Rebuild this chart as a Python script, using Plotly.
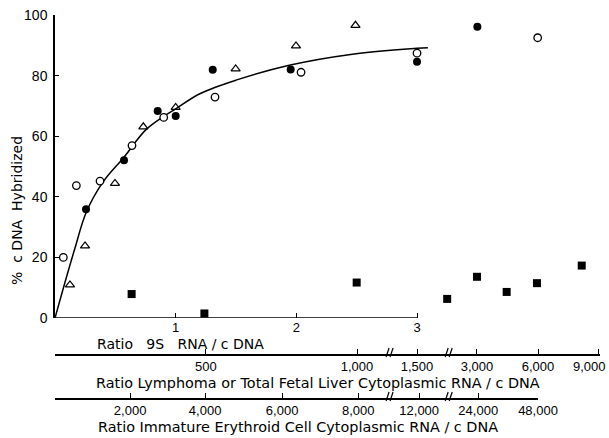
import plotly.graph_objects as go

# ---- data (x in "Ratio 9S RNA / cDNA" axis units; points beyond 3 sit on the broken scale) ----
open_circle_x = [0.069, 0.177, 0.373, 0.638, 0.901, 1.326, 2.039, 3.0, 4.0]
open_circle_y = [20.0, 43.7, 45.2, 56.9, 66.2, 72.9, 81.1, 87.4, 92.5]

filled_circle_x = [0.257, 0.572, 0.851, 1.0, 1.307, 1.953, 3.0, 3.5]
filled_circle_y = [35.9, 52.1, 68.3, 66.7, 81.9, 82.0, 84.6, 96.1]

triangle_x = [0.124, 0.249, 0.497, 0.732, 1.0, 1.497, 1.997, 2.49]
triangle_y = [10.9, 23.8, 44.4, 63.1, 69.5, 82.2, 89.8, 96.6]

square_x = [0.635, 1.238, 2.5, 3.25, 3.497, 3.743, 3.994, 4.365]
square_y = [7.9, 1.5, 11.7, 6.3, 13.6, 8.6, 11.5, 17.3]

curve_x = [0, 0.07, 0.165, 0.26, 0.4, 0.57, 0.75, 0.9, 1.0, 1.2, 1.5, 1.95, 2.45, 3.0, 3.09]
curve_y = [0, 10, 23, 35, 45, 53, 62, 66.5, 69, 74, 78.5, 83.5, 87, 89, 89.2]

# tick labels
y_ticks = [0, 20, 40, 60, 80, 100]
ratio9s_ticks = [1, 2, 3]
lymph_pos = [0, 1.251, 2.503, 3.0, 3.497, 4.003, 4.5]
lymph_labels = ["", "500", "1,000", "1,500", "3,000", "6,000", "9,000"]
eryth_pos = [0, 0.622, 1.243, 1.881, 2.511, 3.016, 3.505, 4.0]
eryth_labels = ["", "2,000", "4,000", "6,000", "8,000", "12,000", "24,000", "48,000"]
break_pos = [2.76, 3.25]

FONT = "DejaVu Sans"
TFONT = "Liberation Sans"
W, H = 609, 438
ML, MR, MT, MB = 55, 9, 15, 5
XMAX = (W - ML - MR) / 120.67
PH = H - MT - MB
PW = W - ML - MR
NB = "\u00a0"

def ypaper(py):
    return (H - MB - py) / PH

def xpaper(px):
    return (px - ML) / PW

fig = go.Figure()
fig.add_trace(go.Scatter(x=curve_x, y=curve_y, mode="lines", line=dict(color="black", width=1.5, shape="spline"),
                         hoverinfo="skip", showlegend=False))
fig.add_trace(go.Scatter(x=open_circle_x, y=open_circle_y, mode="markers",
                         marker=dict(symbol="circle", size=7.5, color="white", line=dict(color="black", width=1.3)),
                         showlegend=False))
fig.add_trace(go.Scatter(x=filled_circle_x, y=filled_circle_y, mode="markers",
                         marker=dict(symbol="circle", size=8, color="black"), showlegend=False))
fig.add_trace(go.Scatter(x=triangle_x, y=triangle_y, mode="markers",
                         marker=dict(symbol="triangle-up-open", size=8, color="black", line=dict(width=1.2)),
                         showlegend=False))
fig.add_trace(go.Scatter(x=square_x, y=square_y, mode="markers",
                         marker=dict(symbol="square", size=8, color="black"), showlegend=False))
# invisible anchors for the extra x-axes
fig.add_trace(go.Scatter(x=[0], y=[0], xaxis="x2", yaxis="y", mode="markers",
                         marker=dict(opacity=0), hoverinfo="skip", showlegend=False))
fig.add_trace(go.Scatter(x=[0], y=[0], xaxis="x3", yaxis="y", mode="markers",
                         marker=dict(opacity=0), hoverinfo="skip", showlegend=False))

ydom0 = ypaper(318)
tickfont = dict(family=TFONT, size=13, color="black")

# last label of the lymphoma axis sits at the right edge: draw it right-aligned so it stays visible
lymph_ticktext = lymph_labels[:-1] + [""]

fig.update_layout(
    width=W, height=H,
    margin=dict(l=ML, r=MR, t=MT, b=MB, autoexpand=False),
    paper_bgcolor="white", plot_bgcolor="rgba(0,0,0,0)",
    font=dict(family=FONT, color="black"),
    xaxis=dict(range=[0, XMAX], domain=[0, 1], showgrid=False, zeroline=False, showline=False,
               automargin=False,
               tickvals=ratio9s_ticks, ticktext=[str(v) for v in ratio9s_ticks],
               ticks="inside", ticklen=5, tickwidth=1.2, tickcolor="black",
               tickfont=dict(family=TFONT, size=13, color="black")),
    yaxis=dict(range=[0, 100], domain=[ydom0, 1], showgrid=False, zeroline=False, showline=True,
               automargin=False,
               linecolor="black", linewidth=1.5, tickvals=y_ticks, ticks="inside", ticklen=4,
               tickcolor="black", ticklabelstandoff=3,
               tickfont=dict(family=TFONT, size=14, color="black")),
    xaxis2=dict(range=[0, XMAX], domain=[0, 1], anchor="free", position=ypaper(355), automargin=False,
                showgrid=False, zeroline=False, showline=True, linecolor="black", linewidth=1.5,
                tickvals=lymph_pos, ticktext=lymph_ticktext, ticks="inside", ticklen=5, tickwidth=1.2,
                tickcolor="black", tickfont=tickfont),
    xaxis3=dict(range=[0, 4.0], domain=[0, xpaper(538)], anchor="free", position=ypaper(399), automargin=False,
                showgrid=False, zeroline=False, showline=True, linecolor="black", linewidth=1.5,
                tickvals=eryth_pos, ticktext=eryth_labels, ticks="inside", ticklen=5, tickwidth=1.2,
                ticklabeloverflow="allow",
                tickcolor="black", tickfont=tickfont),
)

shapes = [dict(type="line", xref="x", yref="y", x0=0, x1=3, y0=0, y1=0,
               line=dict(color="black", width=1.5))]
px_u = 1 / 120.67
px_p = 1 / PH
for axis_py in (355, 399):
    yp = ypaper(axis_py)
    for bx in break_pos:
        for off in (0, 4):
            shapes.append(dict(type="line", xref="x", yref="paper",
                               x0=bx + (off - 2) * px_u, y0=yp - 2 * px_p,
                               x1=bx + (off + 1) * px_u, y1=yp + 7 * px_p,
                               line=dict(color="black", width=1.2)))
fig.update_layout(shapes=shapes)

ann = [dict(text="%" + NB * 2 + "c" + NB + "DNA" + NB * 2 + "Hybridized", x=xpaper(17), y=ypaper(211),
            xref="paper", yref="paper", showarrow=False, textangle=-90,
            xanchor="center", yanchor="middle",
            font=dict(family=FONT, size=14, color="black"))]
for txt, px, py, fs in [("Ratio" + NB * 3 + "9S" + NB * 3 + "RNA / c" + NB + "DNA", 95, 344, 14),
                        ("Ratio Lymphoma or Total Fetal Liver Cytoplasmic RNA / c DNA", 94, 383, 14.4),
                        ("Ratio Immature Erythroid Cell Cytoplasmic RNA / c DNA", 96, 427, 14.4)]:
    ann.append(dict(text=txt, x=xpaper(px), y=ypaper(py), xref="paper", yref="paper",
                    xanchor="left", yanchor="middle", showarrow=False,
                    font=dict(family=FONT, size=fs, color="black")))
ann.append(dict(text=lymph_labels[-1], x=xpaper(607), y=ypaper(366), xref="paper", yref="paper",
                xanchor="right", yanchor="middle", showarrow=False, borderpad=0,
                font=tickfont))
fig.update_layout(annotations=ann)

fig.write_html("out.html", config={"displayModeBar": False},
               post_script="document.body.style.margin='0';document.body.style.overflow='hidden';")
